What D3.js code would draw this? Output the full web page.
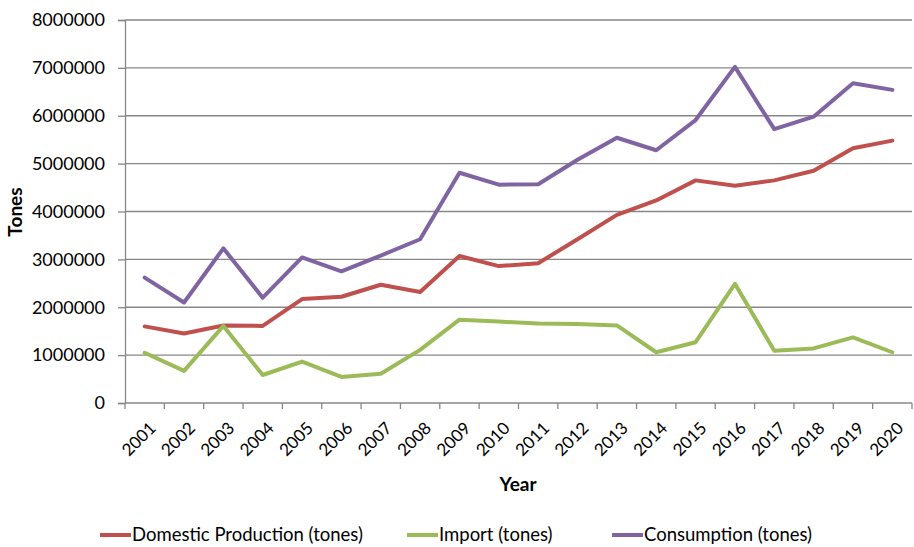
<!DOCTYPE html>
<html>
<head>
<meta charset="utf-8">
<script src="https://cdn.jsdelivr.net/npm/d3@7/dist/d3.min.js"></script>
<style>
  html, body { margin: 0; padding: 0; background: #fff; }
  svg { display: block; font-family: Lato, "Open Sans", sans-serif; }
</style>
</head>
<body>
<svg id="chart" width="914" height="547"></svg>
<script>
const years = ["2001","2002","2003","2004","2005","2006","2007","2008","2009","2010",
               "2011","2012","2013","2014","2015","2016","2017","2018","2019","2020"];
const domestic = [1600000,1450000,1620000,1610000,2170000,2220000,2470000,2320000,3070000,2860000,
                  2920000,3420000,3930000,4230000,4650000,4540000,4650000,4850000,5320000,5480000];
const imports = [1050000,670000,1610000,585000,865000,545000,610000,1110000,1740000,1700000,
                 1660000,1650000,1620000,1060000,1270000,2490000,1090000,1140000,1370000,1060000];
const consumption = [2620000,2100000,3230000,2200000,3040000,2750000,3080000,3420000,4810000,4560000,
                     4570000,5080000,5540000,5280000,5910000,7020000,5720000,5980000,6680000,6540000];
const yTicks = [0,1000000,2000000,3000000,4000000,5000000,6000000,7000000,8000000];
const seriesNames = ["Domestic Production (tones)","Import (tones)","Consumption (tones)"];
const seriesColors = ["#C0504D","#9BBB59","#8064A2"];
const seriesValues = [domestic, imports, consumption];

const svg = d3.select("#chart");
const mLeft = 125, mRight = 912, mTop = 20, mBottom = 403;

const x = d3.scaleBand().domain(years).range([mLeft, mRight]);
const y = d3.scaleLinear().domain([0, 8000000]).range([mBottom, mTop]);

// gridlines
svg.append("g").selectAll("line").data(yTicks.filter(d => d > 0)).join("line")
  .attr("x1", mLeft).attr("x2", mRight)
  .attr("y1", d => y(d)).attr("y2", d => y(d))
  .attr("stroke", "#878787").attr("stroke-width", 1.3);

// y axis
const yAxis = svg.append("g").attr("transform", `translate(${mLeft},0)`)
  .call(d3.axisLeft(y).tickValues(yTicks).tickSize(7).tickPadding(13).tickFormat(d3.format("d")));
yAxis.select(".domain").attr("stroke", "#878787").attr("stroke-width", 1.3);
yAxis.selectAll(".tick line").attr("stroke", "#878787").attr("stroke-width", 1.3);
yAxis.selectAll(".tick text").attr("font-size", 18).attr("fill", "#000")
  .attr("font-family", "Lato, sans-serif");

// x axis
const xg = svg.append("g").attr("transform", `translate(0,${mBottom})`);
xg.append("line").attr("x1", mLeft).attr("x2", mRight).attr("y1", 0).attr("y2", 0)
  .attr("stroke", "#878787").attr("stroke-width", 1.3);
const bounds = years.map(d => x(d)).concat([x(years[years.length - 1]) + x.bandwidth()]);
xg.selectAll("line.tk").data(bounds).join("line").attr("class", "tk")
  .attr("x1", d => d).attr("x2", d => d).attr("y1", 0).attr("y2", 6)
  .attr("stroke", "#878787").attr("stroke-width", 1.3);
xg.selectAll("text").data(years).join("text")
  .attr("transform", d => `translate(${x(d) + x.bandwidth() / 2 + 8},${22}) rotate(-45)`)
  .attr("text-anchor", "end").attr("dy", "0.35em")
  .attr("font-size", 17).attr("fill", "#000")
  .text(d => d);

// lines
const line = d3.line().x((d, i) => x(years[i]) + x.bandwidth() / 2).y(d => y(d));
seriesValues.forEach((vals, k) => {
  svg.append("path").datum(vals)
    .attr("d", line)
    .attr("fill", "none")
    .attr("stroke", seriesColors[k])
    .attr("stroke-width", 4)
    .attr("stroke-linejoin", "round")
    .attr("stroke-linecap", "round");
});

// axis titles
svg.append("text").attr("x", 518).attr("y", 484).attr("dy", "0.35em")
  .attr("text-anchor", "middle").attr("font-weight", "bold").attr("font-size", 19)
  .text("Year");
svg.append("text").attr("transform", "translate(15,212) rotate(-90)").attr("dy", "0.35em")
  .attr("text-anchor", "middle").attr("font-weight", "bold").attr("font-size", 19)
  .text("Tones");

// legend
const legendX = [100, 407, 612];
const lg = svg.append("g");
seriesNames.forEach((name, k) => {
  lg.append("line").attr("x1", legendX[k]).attr("x2", legendX[k] + 31)
    .attr("y1", 535).attr("y2", 535)
    .attr("stroke", seriesColors[k]).attr("stroke-width", 4);
  lg.append("text").attr("x", legendX[k] + 32).attr("y", 535).attr("dy", "0.35em")
    .attr("font-size", 18.5).attr("fill", "#000").text(name);
});
</script>
</body>
</html>
